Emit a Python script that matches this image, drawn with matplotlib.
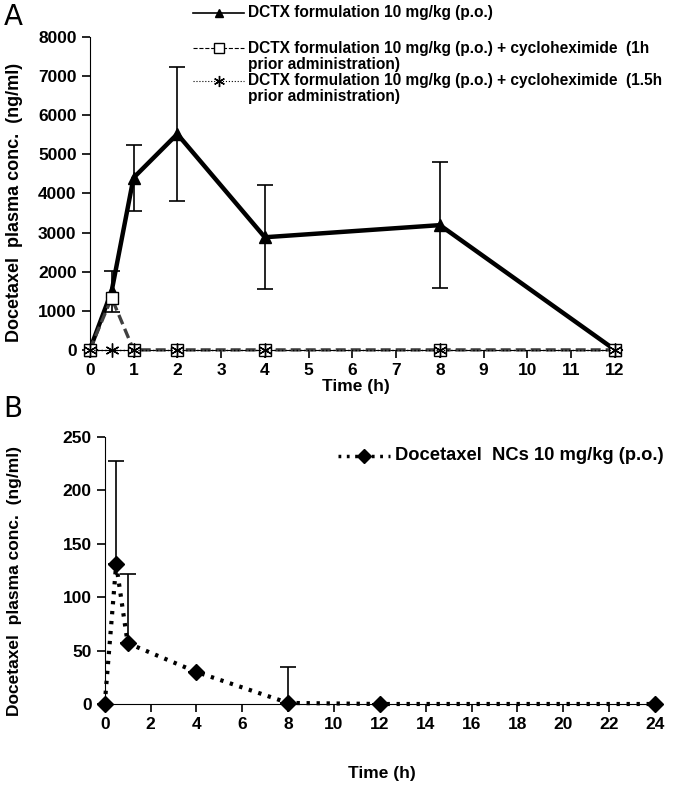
import matplotlib
matplotlib.use("Agg")
import matplotlib.pyplot as plt
from matplotlib.lines import Line2D

plt.rcParams['font.family'] = ['Liberation Sans', 'DejaVu Sans']

# Panel A data
tA = [0, 0.5, 1, 2, 4, 8, 12]
dctx = [0, 1500, 4400, 5520, 2880, 3190, 0]
dctx_err = [0, 520, 840, 1720, 1330, 1610, 0]
chx1 = [0, 1330, 0, 0, 0, 0, 0]
chx15 = [0, 0, 0, 0, 0, 0, 0]
xticksA = list(range(0, 13))
yticksA = [0, 1000, 2000, 3000, 4000, 5000, 6000, 7000, 8000]
labelsA = [["DCTX formulation 10 mg/kg (p.o.)"],
           ["DCTX formulation 10 mg/kg (p.o.) + cycloheximide  (1h", "prior administration)"],
           ["DCTX formulation 10 mg/kg (p.o.) + cycloheximide  (1.5h", "prior administration)"]]

# Panel B data
tB = [0, 0.5, 1, 4, 8, 12, 24]
ncs = [0, 131, 57, 30, 1, 0, 0]
ncs_err = [0, 97, 65, 0, 34, 0, 0]
xticksB = list(range(0, 25, 2))
yticksB = [0, 50, 100, 150, 200, 250]
labelB = "Docetaxel  NCs 10 mg/kg (p.o.)"

W, H = 680, 788
fig = plt.figure(figsize=(W / 100, H / 100), dpi=100)

def fx(px):
    return px / W

def fy(py):
    return 1 - py / H

fs = 12.5
star = (6, 2, 0)

# ---------- Panel A
axA = fig.add_axes([0.132, 0.556, 0.782, 0.397])
axA.errorbar(tA, dctx, yerr=dctx_err, fmt='none', ecolor='black', elinewidth=1.2, capsize=6, capthick=1.2, zorder=2)
axA.plot(tA, dctx, color='black', lw=3.2, marker='^', ms=9, zorder=3, clip_on=False)
axA.plot(tA, chx1, color='#404040', lw=2.4, ls=(0, (3, 1.5)), marker='s', ms=9,
         mfc='white', mec='black', mew=1.0, zorder=4, clip_on=False)
axA.plot(tA, chx15, color='black', lw=1.0, ls=':', marker=star, ms=10, mew=1.0, zorder=5, clip_on=False)
axA.set_xlim(0, 12.15)
axA.set_ylim(0, 8000)
axA.set_xticks(xticksA)
axA.set_yticks(yticksA)
axA.set_xlabel("Time (h)", fontsize=fs, fontweight='bold', labelpad=1)
axA.set_ylabel("Docetaxel  plasma conc.  (ng/ml)", fontsize=13, fontweight='bold')
axA.yaxis.set_label_coords(-0.126, 0.47)
for s in ['top', 'right']:
    axA.spines[s].set_visible(False)
axA.tick_params(labelsize=fs, width=1.2, length=6)
for lab in axA.get_xticklabels() + axA.get_yticklabels():
    lab.set_fontweight('bold')

# manual legend A (handle aligned with first text line)
legstyles = [dict(color='black', lw=1.2, marker='^', ms=6),
             dict(color='black', lw=0.8, ls='--', marker='s', ms=7, mfc='white'),
             dict(color='black', lw=0.8, ls=':', marker=star, ms=8)]
leg_y = [[13], [48, 64], [81, 97]]
for st, ys, lines in zip(legstyles, leg_y, labelsA):
    y0 = fy(ys[0])
    fig.add_artist(Line2D([fx(193), fx(244)], [y0, y0], transform=fig.transFigure,
                          **{k: v for k, v in st.items() if k not in ('marker', 'ms', 'mfc')}))
    fig.add_artist(Line2D([fx(219)], [y0], transform=fig.transFigure, color='black', lw=0,
                          marker=st['marker'], ms=st['ms'], mfc=st.get('mfc', 'black')))
    for yy, txt in zip(ys, lines):
        fig.text(fx(248), fy(yy), txt, fontsize=11.2, fontweight='bold', va='center', ha='left')

fig.text(0.005, 0.978, "A", fontsize=20, family='DejaVu Sans', va='center')

# ---------- Panel B
axB = fig.add_axes([0.154, 0.1066, 0.816, 0.3388])
axB.errorbar(tB, ncs, yerr=[[0] * len(ncs_err), ncs_err], fmt='none', ecolor='black', elinewidth=1.2,
             capsize=6, capthick=1.2, zorder=2)
axB.plot(tB, ncs, color='black', lw=3, ls=(0, (0.8, 1.6)), marker='D', ms=8, zorder=3,
         clip_on=False)
axB.set_xlim(0, 24.2)
axB.set_ylim(0, 250)
axB.set_xticks(xticksB)
axB.set_yticks(yticksB)
axB.set_xlabel("Time (h)", fontsize=fs, fontweight='bold', labelpad=24)
axB.set_ylabel("Docetaxel  plasma conc.  (ng/ml)", fontsize=12.5, fontweight='bold')
axB.yaxis.set_label_coords(-0.149, 0.46)
for s in ['top', 'right']:
    axB.spines[s].set_visible(False)
axB.tick_params(labelsize=fs, width=1.2, length=6)
for lab in axB.get_xticklabels() + axB.get_yticklabels():
    lab.set_fontweight('bold')

yb = fy(456)
fig.add_artist(Line2D([fx(338), fx(390)], [yb, yb], transform=fig.transFigure, color='black',
                      lw=2.5, ls=(0, (0.8, 1.6))))
fig.add_artist(Line2D([fx(364)], [yb], transform=fig.transFigure, color='black', lw=0,
                      marker='D', ms=7))
fig.text(fx(395), yb, labelB, fontsize=13.2, fontweight='bold', va='center', ha='left')

fig.text(0.005, 0.481, "B", fontsize=20, family='DejaVu Sans', va='center')

fig.savefig("out.png", dpi=100)
